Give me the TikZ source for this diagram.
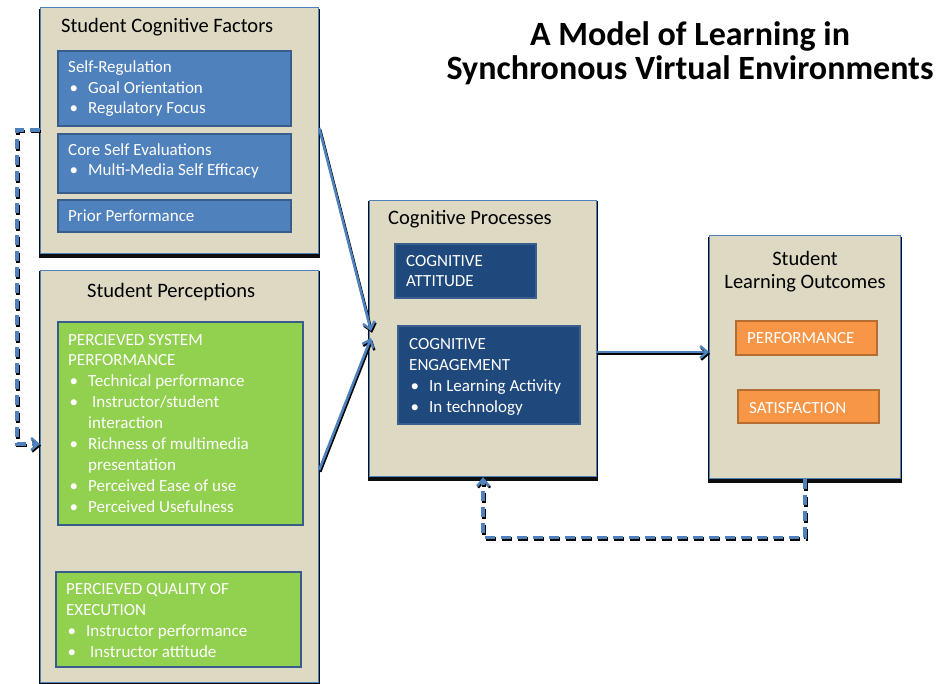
\documentclass[tikz,border=0pt]{standalone}
\usepackage{fontspec}
\setmainfont{Carlito}
\usetikzlibrary{shadows,calc,arrows.meta}
\definecolor{beige}{HTML}{DDD9C3}
\definecolor{cblue}{HTML}{4F81BD}
\definecolor{cblueb}{HTML}{385D8A}
\definecolor{navy}{HTML}{1F497D}
\definecolor{navyb}{HTML}{3A5F8F}
\definecolor{cgreen}{HTML}{92D050}
\definecolor{corange}{HTML}{F79646}
\definecolor{corangeb}{HTML}{B66D31}
\newcommand\bitem{\makebox[20pt][l]{\hspace{1.5pt}•}}
\newcommand\blkl[1]{\begin{tabular}[t]{@{}l@{}}#1\end{tabular}}
\newcommand\blkc[1]{\begin{tabular}[t]{@{}c@{}}#1\end{tabular}}
\begin{document}
\begin{tikzpicture}[x=1pt,y=-1pt,
  outerbox/.style={rectangle, anchor=north west, fill=beige, draw=cblue, line width=1.2pt, inner sep=0pt,
    drop shadow={shadow xshift=0pt, shadow yshift=-2.5pt, shadow scale=1.012, opacity=0.95, fill=black}},
  bluebox/.style={rectangle, anchor=north west, fill=cblue, draw=cblueb, line width=1.6pt, inner sep=0pt},
  navybox/.style={rectangle, anchor=north west, fill=navy, draw=navyb, line width=1.6pt, inner sep=0pt},
  greenbox/.style={rectangle, anchor=north west, fill=cgreen, draw=cblueb, line width=2pt, inner sep=0pt},
  orangebox/.style={rectangle, anchor=north west, fill=corange, draw=corangeb, line width=1.6pt, inner sep=0pt},
  headtxt/.style={anchor=base west, inner sep=0pt, text=black, font=\fontsize{20.5}{23}\selectfont},
  intxt/.style={anchor=base west, inner sep=0pt, text=white, font=\fontsize{17}{20.5}\selectfont},
  conn/.style={draw=cblue, line width=2.6pt,
    preaction={draw=black, line width=2.6pt, transform canvas={xshift=1pt, yshift=-1.8pt}}},
  dconn/.style={draw=cblue, line width=3.4pt, dash pattern=on 10pt off 6pt,
    preaction={draw=black, line width=3.4pt, dash pattern=on 10pt off 6pt, transform canvas={xshift=1pt, yshift=-1.6pt}}},
  tip/.style={-{Straight Barb[length=7pt,width=12pt,line width=2.4pt]}}
]
\useasboundingbox (0,0) rectangle (937,683);

% Title
\node[anchor=base, inner sep=0pt, font=\fontsize{34}{38}\bfseries] (title1) at (690,45) {A Model of Learning in};
\node[anchor=base, inner sep=0pt, font=\fontsize{34}{38}\bfseries] (title2) at (690,79) {Synchronous Virtual Environments};

% Student Cognitive Factors
\node[outerbox, minimum width=278pt, minimum height=246pt] (scf) at (40,7) {};
\node[headtxt] (scft) at (61,32) {Student Cognitive Factors};
\node[bluebox, minimum width=233pt, minimum height=75pt] (sr) at (57,50) {};
\node[intxt] (srt) at (68,72.5) {\blkl{Self-Regulation\\\bitem Goal Orientation\\\bitem Regulatory Focus}};
\node[bluebox, minimum width=233pt, minimum height=59pt] (cse) at (57,133) {};
\node[intxt] (cset) at (68,155) {\blkl{Core Self Evaluations\\\bitem Multi-Media Self Efficacy}};
\node[bluebox, minimum width=233pt, minimum height=32pt] (pp) at (57,199) {};
\node[intxt] (ppt) at (68,221) {Prior Performance};

% Student Perceptions
\node[outerbox, minimum width=278pt, minimum height=412pt] (sp) at (40,270) {};
\node[headtxt] (spt) at (87,297) {Student Perceptions};
\node[greenbox, minimum width=245pt, minimum height=203pt] (psp) at (57,321) {};
\node[intxt, font=\fontsize{17}{20.9}\selectfont] (pspt) at (68,345) {\blkl{PERCIEVED SYSTEM\\PERFORMANCE\\\bitem Technical performance\\\bitem\hspace{4pt}Instructor/student\\\hspace*{20pt}interaction\\\bitem Richness of multimedia\\\hspace*{20pt}presentation\\\bitem Perceived Ease of use\\\bitem Perceived Usefulness}};
\node[greenbox, minimum width=245pt, minimum height=95pt] (pqe) at (55,571) {};
\node[intxt, font=\fontsize{17}{21}\selectfont] (pqet) at (66,594) {\blkl{PERCIEVED QUALITY OF\\EXECUTION\\\bitem Instructor performance\\\bitem\hspace{4pt}Instructor attitude}};

% Cognitive Processes
\node[outerbox, minimum width=227pt, minimum height=276pt] (cp) at (369,200) {};
\node[headtxt] (cpt) at (388,224) {Cognitive Processes};
\node[navybox, minimum width=141pt, minimum height=54pt] (ca) at (394,243) {};
\node[intxt] (cat) at (406,266) {\blkl{COGNITIVE\\ATTITUDE}};
\node[navybox, minimum width=182pt, minimum height=98pt] (ce) at (397,325) {};
\node[intxt, font=\fontsize{17}{21}\selectfont] (cet) at (409,349) {\blkl{COGNITIVE\\ENGAGEMENT\\\bitem In Learning Activity\\\bitem In technology}};

% Student Learning Outcomes
\node[outerbox, minimum width=191pt, minimum height=243pt] (slo) at (709,235) {};
\node[anchor=base, inner sep=0pt, font=\fontsize{20.5}{23}\selectfont] (slot) at (805,265) {\blkc{Student\\Learning Outcomes}};
\node[orangebox, minimum width=141pt, minimum height=34pt] (perf) at (735,320) {};
\node[intxt] (perft) at (747,343) {PERFORMANCE};
\node[orangebox, minimum width=141pt, minimum height=33pt] (sat) at (737,389) {};
\node[intxt] (satt) at (749,413) {SATISFACTION};

% Connectors
\draw[conn, tip] ($(scf.north east)+(0,121)$) -- ($(cp.north west)+(2,131)$);
\draw[conn, tip] ($(sp.north east)+(0,200)$) -- ($(cp.north west)+(2,138)$);
\draw[conn, tip] ($(cp.north east)+(0,152)$) -- ($(slo.north west)+(0,117)$);
\draw[dconn, tip] (slo.south) |- ($(cp.south)+(0,60)$) -- (cp.south);
\draw[dconn, tip] ($(scf.north west)+(0,123)$) -- ++(-23,0) |- ($(sp.north west)+(0,174)$);
\end{tikzpicture}
\end{document}
